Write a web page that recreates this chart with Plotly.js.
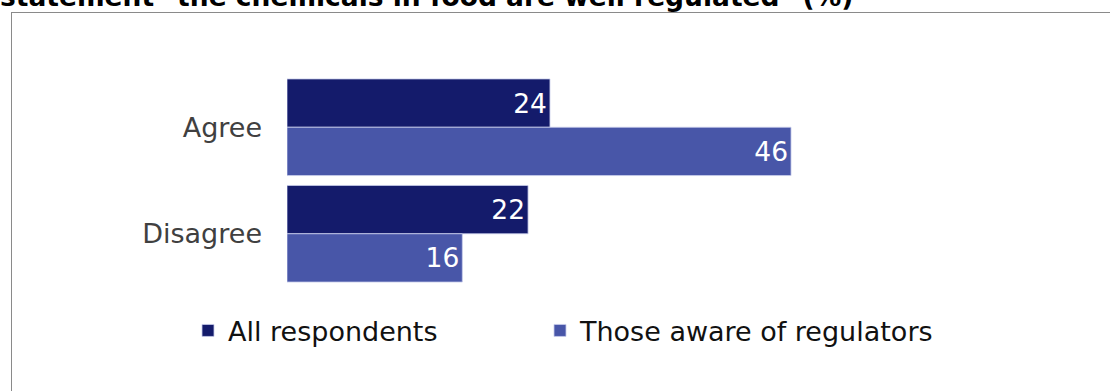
<!DOCTYPE html>
<html>
<head>
<meta charset="utf-8">
<script src="https://cdn.plot.ly/plotly-3.0.1.min.js"></script>
<style>
html,body{margin:0;padding:0;background:#fff;}
#wrap{position:relative;width:1110px;height:391px;overflow:hidden;}
#chart{position:absolute;left:0;top:0;width:1110px;height:391px;}
#frame{position:absolute;left:11px;top:12px;width:1110px;height:400px;border-left:1px solid #8a8a8a;border-top:1px solid #8a8a8a;pointer-events:none;}
</style>
</head>
<body>
<div id="wrap"><div id="chart"></div><div id="frame"></div></div>
<script>
const categories = ["Agree", "Disagree"];
const seriesNames = ["All respondents", "Those aware of regulators"];
const allRespondents = [24, 22];
const awareOfRegulators = [46, 16];
const titleText = 'statement "the chemicals in food are well regulated" (%)';

const colors = ["#141b6b", "#4856a8"];
const legendIds = ["legend", "legend2"];
const font = "DejaVu Sans, Verdana, sans-serif";

const traces = [allRespondents, awareOfRegulators].map((vals, i) => ({
  type: "bar",
  orientation: "h",
  name: seriesNames[i],
  legend: legendIds[i],
  y: categories,
  x: vals,
  text: vals.map(String),
  textposition: "inside",
  insidetextanchor: "end",
  textfont: {color: "#ffffff", size: 26.5, family: font},
  marker: {color: colors[i], line: {color: "rgba(200,205,235,0.8)", width: 1}},
  hoverinfo: "skip"
}));

const legendStyle = (xpx) => ({
  orientation: "h",
  x: (xpx - 287) / 767, xanchor: "left",
  y: -0.091, yanchor: "top",
  font: {family: font, size: 27, color: "#111"},
  itemclick: false, itemdoubleclick: false,
  bgcolor: "rgba(0,0,0,0)"
});

const layout = {
  width: 1110, height: 391,
  margin: {l: 287, r: 56, t: 73.5, b: 103.5, pad: 0},
  paper_bgcolor: "#ffffff", plot_bgcolor: "#ffffff",
  barmode: "group",
  bargap: 0.093,
  bargroupgap: 0,
  showlegend: true,
  title: {
    text: "<b>" + titleText + "</b>",
    font: {family: font, size: 26.5, color: "#000"},
    xref: "container", x: 0, xanchor: "left",
    yref: "container", y: 1 - 6/391, yanchor: "bottom"
  },
  xaxis: {range: [0, 70], visible: false, fixedrange: true},
  yaxis: {
    type: "category", autorange: "reversed",
    showline: false, showgrid: false, zeroline: false, ticks: "",
    ticklabelstandoff: 24,
    tickfont: {family: font, size: 27, color: "#404040"},
    fixedrange: true
  },
  legend: legendStyle(188),
  legend2: legendStyle(540)
};

Plotly.newPlot("chart", traces, layout, {displayModeBar: false, staticPlot: true});
</script>
</body>
</html>
